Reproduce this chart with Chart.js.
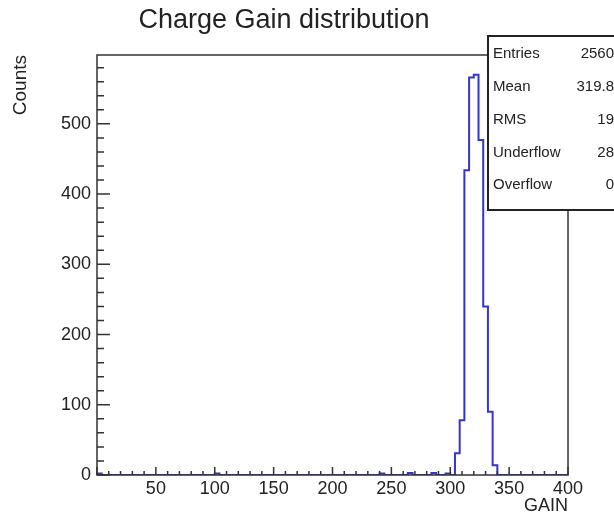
<!DOCTYPE html>
<html>
<head>
<meta charset="utf-8">
<script src="https://cdn.jsdelivr.net/npm/chart.js@4.4.1/dist/chart.umd.min.js"></script>
<style>
  body { margin: 0; background: #fff; }
  canvas { display: block; }
</style>
</head>
<body>
<canvas id="gain-chart" width="614" height="515"></canvas>
<script>
// histogram: 4-unit bins, only the non-empty ones are listed
const binWidth = 4;
const binStarts = [0, 100, 240, 264, 284, 296, 304, 308, 312, 316, 320, 324, 328, 332, 336];
const binCounts = [2, 2, 2, 3, 3, 2, 31, 78, 434, 566, 570, 477, 240, 90, 14];

const xTicks = [50, 100, 150, 200, 250, 300, 350, 400];
const yTicks = [0, 100, 200, 300, 400, 500];

const statNames = ['Entries', 'Mean', 'RMS', 'Underflow', 'Overflow'];
const statValues = ['2560', '319.8', '19', '28', '0'];

const fontFamily = '"Liberation Sans", Arial, sans-serif';
const textColor = '#222';

// build the full set of bin edges for the stepped outline
const points = [];
for (let lo = 0; lo < 400; lo += binWidth) {
    const idx = binStarts.indexOf(lo);
    points.push({ x: lo, y: idx >= 0 ? binCounts[idx] : 0 });
}
points.push({ x: 400, y: 0 });

// ROOT style frame with inward ticks, drawn on top of the histogram
const frameAndTicks = {
    id: 'frameAndTicks',
    afterDatasetsDraw(chart) {
        const ctx = chart.ctx;
        const area = chart.chartArea;
        const xs = chart.scales.x;
        const ys = chart.scales.y;
        ctx.save();
        ctx.strokeStyle = '#333';
        ctx.lineWidth = 1.5;
        ctx.strokeRect(area.left, area.top, area.right - area.left, area.bottom - area.top);

        ctx.beginPath();
        for (let v = 0; v <= 400; v += 10) {
            const px = xs.getPixelForValue(v);
            const len = v % 50 === 0 ? 8 : 4;
            ctx.moveTo(px, area.bottom);
            ctx.lineTo(px, area.bottom - len);
        }
        for (let v = 0; v <= ys.max; v += 20) {
            const py = ys.getPixelForValue(v);
            const len = v % 100 === 0 ? 13 : 7;
            ctx.moveTo(area.left, py);
            ctx.lineTo(area.left + len, py);
        }
        ctx.stroke();
        ctx.restore();
    },
    afterDraw(chart) {
        // stats box in the top right corner
        const ctx = chart.ctx;
        const boxLeft = 488, boxTop = 36, boxBottom = 210;
        ctx.save();
        ctx.fillStyle = '#fff';
        ctx.fillRect(boxLeft, boxTop, 140, boxBottom - boxTop);
        ctx.strokeStyle = '#222';
        ctx.lineWidth = 2;
        ctx.strokeRect(boxLeft, boxTop, 140, boxBottom - boxTop);
        ctx.font = '15px ' + fontFamily;
        ctx.fillStyle = textColor;
        ctx.textBaseline = 'middle';
        statNames.forEach((name, i) => {
            const y = boxTop + 18 + i * 32.8;
            ctx.textAlign = 'left';
            ctx.fillText(name, boxLeft + 5, y);
            ctx.textAlign = 'right';
            ctx.fillText(statValues[i], 614, y);
        });
        ctx.restore();
    }
};

const ctx = document.getElementById('gain-chart').getContext('2d');
const chart = new Chart(ctx, {
    type: 'line',
    data: {
        datasets: [{
            data: points,
            stepped: true,
            borderColor: '#3535cc',
            borderWidth: 2,
            pointRadius: 0,
            fill: false
        }]
    },
    options: {
        responsive: false,
        animation: false,
        layout: { padding: { left: 0, right: 46, top: 0, bottom: 0 } },
        plugins: {
            legend: { display: false },
            tooltip: { enabled: false },
            title: {
                display: true,
                text: 'Charge Gain distribution',
                color: textColor,
                font: { family: fontFamily, size: 27, weight: 'normal', lineHeight: 1 },
                padding: { top: 7, bottom: 21 }
            }
        },
        scales: {
            x: {
                type: 'linear',
                min: 0,
                max: 400,
                grid: { display: false, drawTicks: false, tickLength: 0 },
                border: { display: false },
                afterFit(scale) { scale.height = 40; },
                afterBuildTicks(scale) { scale.ticks = xTicks.map(v => ({ value: v })); },
                ticks: {
                    color: textColor,
                    padding: 3,
                    maxRotation: 0,
                    font: { family: fontFamily, size: 18 }
                },
                title: {
                    display: true,
                    text: 'GAIN',
                    align: 'end',
                    color: textColor,
                    padding: 0,
                    font: { family: fontFamily, size: 18, lineHeight: 1 }
                }
            },
            y: {
                type: 'linear',
                min: 0,
                max: 598,
                grid: { display: false, drawTicks: false, tickLength: 0 },
                border: { display: false },
                afterFit(scale) { scale.width = 97; },
                afterBuildTicks(scale) { scale.ticks = yTicks.map(v => ({ value: v })); },
                ticks: {
                    color: textColor,
                    padding: 6,
                    font: { family: fontFamily, size: 18 }
                },
                title: {
                    display: true,
                    text: 'Counts',
                    align: 'end',
                    color: textColor,
                    padding: { top: 11, bottom: 0 },
                    font: { family: fontFamily, size: 19, lineHeight: 1 }
                }
            }
        }
    },
    plugins: [frameAndTicks]
});
</script>
</body>
</html>
